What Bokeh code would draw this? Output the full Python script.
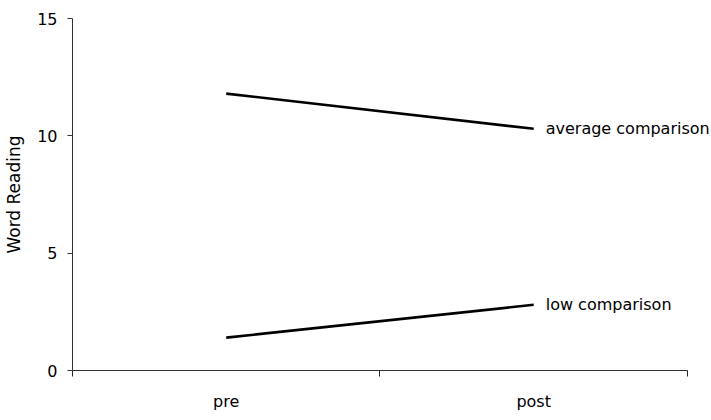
from bokeh.plotting import figure
from bokeh.models import Range1d, FixedTicker, ColumnDataSource, LabelSet
from bokeh.core.properties import value
from bokeh.embed import file_html
from bokeh.resources import INLINE

phases = ["pre", "post"]
average_comparison = [11.8, 10.3]
low_comparison = [1.4, 2.8]
series_names = ["average comparison", "low comparison"]
y_ticks = [0, 5, 10, 15]

FONT = "DejaVu Sans"

xs = [i + 0.5 for i in range(len(phases))]
bounds = [float(i) for i in range(len(phases) + 1)]
n = len(phases)
extra = 0.075  # room on the right for the series labels

p = figure(frame_width=round(615 * (n + extra) / n), frame_height=352,
           output_backend="svg", toolbar_location=None,
           x_range=Range1d(0, n + extra), y_range=Range1d(y_ticks[0], y_ticks[-1]),
           min_border_left=72, min_border_right=0, min_border_top=18, min_border_bottom=34)
p.outline_line_color = None
p.xgrid.visible = False
p.ygrid.visible = False
p.background_fill_color = "white"
p.border_fill_color = "white"

for series in (average_comparison, low_comparison):
    p.line(xs, series, line_color="black", line_width=2.6)

src = ColumnDataSource(dict(x=[xs[-1], xs[-1]],
                            y=[average_comparison[-1], low_comparison[-1]],
                            t=series_names))
p.add_layout(LabelSet(x="x", y="y", text="t", source=src, x_offset=12,
                      text_baseline="middle", text_align="left",
                      text_font=value(FONT), text_font_size="16px", text_color="black"))

xa = p.xaxis[0]
xa.bounds = (0, n)
xa.ticker = FixedTicker(ticks=xs, minor_ticks=bounds)
xa.major_label_overrides = {x: nm for x, nm in zip(xs, phases)}
xa.major_tick_out = 0
xa.major_tick_in = 0
xa.minor_tick_out = 6
xa.minor_tick_in = 0
xa.minor_tick_line_color = "#222222"
xa.axis_line_color = "#333333"
xa.axis_line_width = 1
xa.major_label_standoff = 15
xa.major_label_text_font = FONT
xa.major_label_text_font_size = "16px"
xa.major_label_text_color = "black"

ya = p.yaxis[0]
ya.ticker = FixedTicker(ticks=y_ticks, minor_ticks=[])
ya.major_tick_out = 5
ya.major_tick_in = 0
ya.minor_tick_out = 0
ya.minor_tick_in = 0
ya.axis_line_color = "#333333"
ya.major_tick_line_color = "#333333"
ya.major_label_standoff = 10
ya.major_label_text_font = FONT
ya.major_label_text_font_size = "16px"
ya.major_label_text_color = "black"
ya.axis_label = "Word Reading"
ya.axis_label_text_font = FONT
ya.axis_label_text_font_size = "17px"
ya.axis_label_text_font_style = "normal"
ya.axis_label_text_color = "black"
ya.axis_label_standoff = 10

open("out.html", "w").write(file_html(p, INLINE))
